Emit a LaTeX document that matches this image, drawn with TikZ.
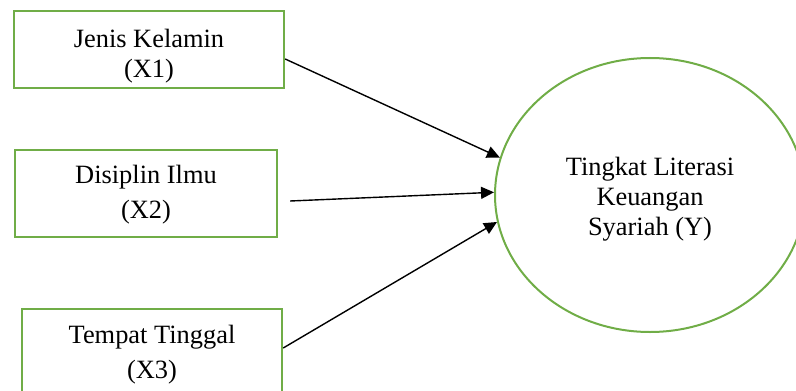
\documentclass[tikz,border=0pt]{standalone}
\usepackage{fontspec}
\setmainfont{Liberation Serif}
\usetikzlibrary{arrows.meta,shapes.geometric}

\definecolor{boxgreen}{RGB}{112,173,71}

\begin{document}
\begin{tikzpicture}[x=0.5pt,y=-0.5pt,
    var/.style={draw=boxgreen,line width=1.2pt,inner sep=0pt},
    txt/.style={align=center,inner sep=0pt,font=\fontsize{13.2}{#1}\selectfont},
    txt/.default=15,
    link/.style={-{Triangle[length=6.5pt,width=6pt]},line width=0.7pt}]
    % Frame of the picture
    \path[use as bounding box,clip] (0,0) rectangle (796,390);

    % Independent variables
    \node[var,minimum width=135pt,minimum height=38.5pt] (jk) at (149,49.5) {};
    \node[txt] (jk-t) at ([yshift=-3.4pt]jk.center) {Jenis Kelamin\\(X1)};
    \node[var,minimum width=131pt,minimum height=43.5pt] (di) at (146,193.5) {};
    \node[txt=17.5] (di-t) at ([yshift=-0.6pt]di.center) {Disiplin Ilmu\\(X2)};
    \node[var,minimum width=130pt,minimum height=44pt] (tt) at (152,353) {};
    \node[txt=17.5] (tt-t) at ([yshift=-0.9pt]tt.center) {Tempat Tinggal\\(X3)};

    % Dependent variable
    \node[var,ellipse,line width=1pt,minimum width=155pt,minimum height=137pt] (lit) at (650,195) {};
    \node[txt] (lit-t) at ([yshift=-2.1pt]lit.center) {Tingkat Literasi\\Keuangan\\Syariah (Y)};

    % Relations
    \draw[link] ([yshift=-4.75pt]jk.east) -- (lit.166);
    \draw[link] ([xshift=6pt,yshift=-3.75pt]di.east) -- (lit.179);
    \draw[link] ([yshift=2.5pt]tt.east) -- (lit.190);
\end{tikzpicture}
\end{document}
